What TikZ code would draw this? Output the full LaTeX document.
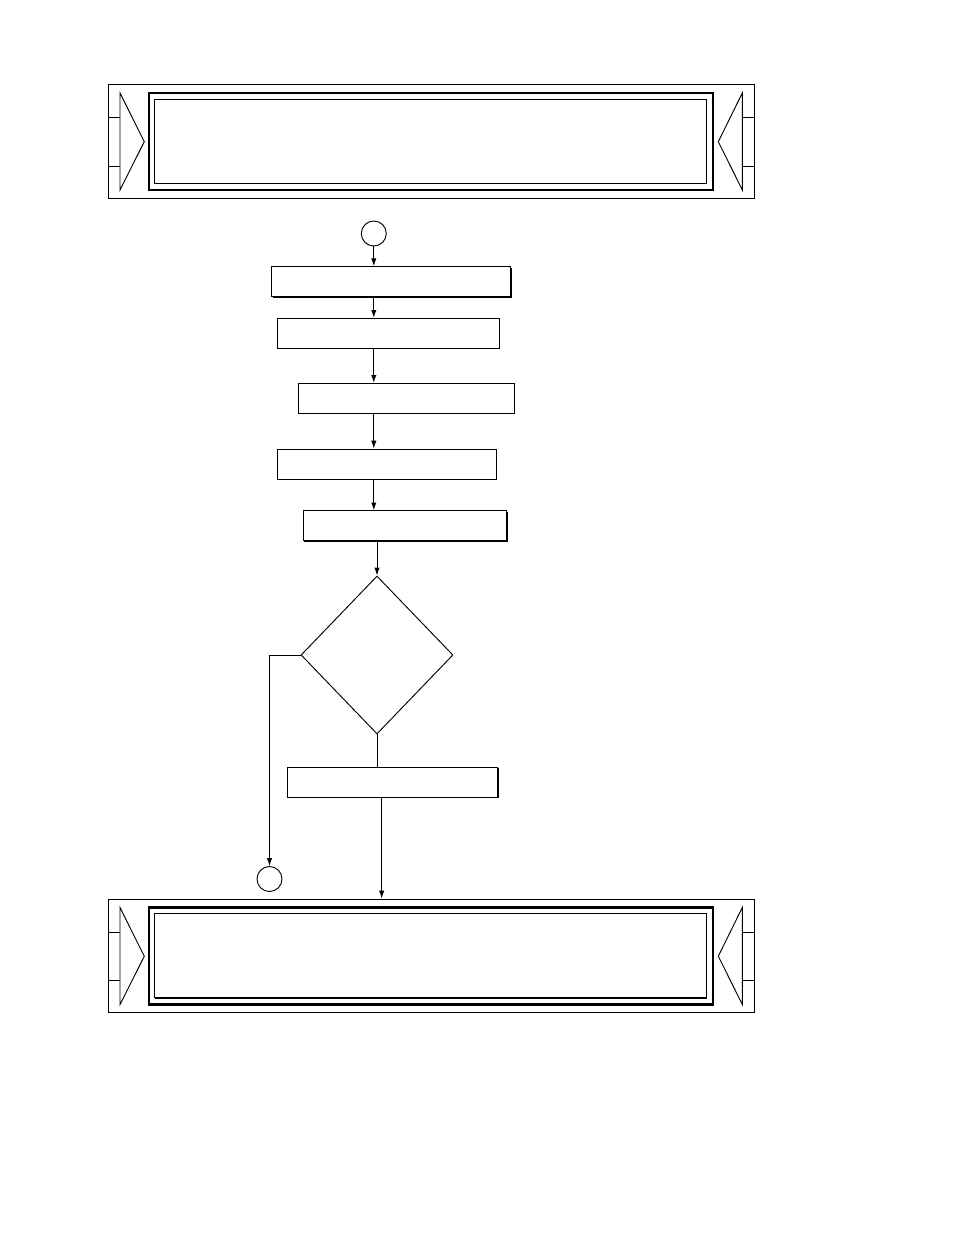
\documentclass[tikz,border=0pt]{standalone}
\usetikzlibrary{arrows.meta,shapes.geometric,shadows}
\newcommand{\pxu}{0.6414pt}
\tikzset{
  procbox/.style={draw, fill=white, line width=0.6pt, minimum height=30*\pxu, inner sep=0pt,
    drop shadow={shadow xshift=0.7pt, shadow yshift=-0.7pt, fill=black, opacity=1}},
  conn/.style={draw, line width=0.6pt},
  flowarrow/.style={conn, -{Latex[length=5pt,width=3.4pt]}},
  onpage/.style={draw, circle, line width=0.6pt, minimum size=25*\pxu, inner sep=0pt},
  decision/.style={draw, diamond, line width=0.6pt, minimum width=152*\pxu, minimum height=158*\pxu, inner sep=0pt},
}
\begin{document}
\begin{tikzpicture}[x=\pxu, y=-\pxu]
\useasboundingbox (0,0) rectangle (954,1235);
% banners
\foreach \dy/\nm in {0/top, 814.5/bot} {
  \node[draw, line width=0.6pt, minimum width=646*\pxu, minimum height=113.5*\pxu, inner sep=0pt] (\nm) at (431,141.25+\dy) {}; % outer frame
  \draw[line width=1.3pt] (149,93+\dy) rectangle (713,190+\dy); % double frame
  \node[procbox, minimum width=552*\pxu, minimum height=84*\pxu] (\nm-win) at (430,141+\dy) {}; % inner frame
  \draw[line width=0.6pt] (120,93+\dy) -- (144.3,141.7+\dy) -- (120,190+\dy) -- cycle; % left pointer
  \draw[line width=0.6pt] (108,117.7+\dy) -- (120,117.7+\dy) (108,166+\dy) -- (120,166+\dy); % left ticks
  \draw[line width=0.6pt] (742.3,93+\dy) -- (718.3,141.7+\dy) -- (742.3,190+\dy) -- cycle; % right pointer
  \draw[line width=0.6pt] (742.3,117.7+\dy) -- (754,117.7+\dy) (742.3,166+\dy) -- (754,166+\dy); % right ticks
}
% flow
\node[onpage] (c1) at (373.8,233.5) {};
\node[procbox, minimum width=239*\pxu] (b1) at (391.2,281.7) {};
\node[procbox, minimum width=222*\pxu] (b2) at (388.3,333.3) {};
\node[procbox, minimum width=216*\pxu] (b3) at (406.3,398.3) {};
\node[procbox, minimum width=219*\pxu] (b4) at (386.7,464) {};
\node[procbox, minimum width=203.4*\pxu] (b5) at (405,525.8) {};
\node[decision] (dec) at (377,655) {};
\node[procbox, minimum width=210.4*\pxu] (b6) at (392.5,782) {};
\node[onpage] (c2) at (269.5,879) {};
% connectors
\draw[flowarrow] (c1.south) -- (c1 |- b1.north);
\draw[flowarrow] (c1 |- b1.south) -- (c1 |- b2.north);
\draw[flowarrow] (c1 |- b2.south) -- (c1 |- b3.north);
\draw[flowarrow] (c1 |- b3.south) -- (c1 |- b4.north);
\draw[flowarrow] (c1 |- b4.south) -- (c1 |- b5.north);
\draw[flowarrow] (dec.north |- b5.south) -- (dec.north);
\draw[conn] (dec.south) -- (dec.south |- b6.north);
\draw[flowarrow] (381.7,0 |- b6.south) -- (381.7,0 |- bot.north);
\draw[flowarrow] (dec.west) -| (c2.north);
\end{tikzpicture}
\end{document}
